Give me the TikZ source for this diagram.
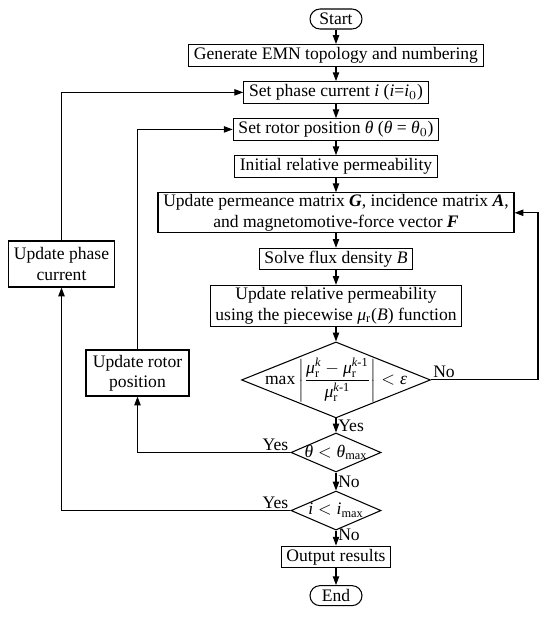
\documentclass[tikz,border=0pt]{standalone}
\usepackage{amsmath}
\usepackage{fontspec}
\setmainfont{Liberation Serif}
\usepackage{tikz}
\usetikzlibrary{arrows.meta, positioning, shapes.geometric}
\newcommand{\mv}[1]{\text{\textit{#1}}}
\tikzset{
    % Main flow
    stepbox/.style={rectangle, draw=black, line width=0.6pt, minimum height=0.43cm,
                inner xsep=3pt, inner ysep=1pt, align=center, font=\fontsize{10}{11.5}\selectfont},
    termbox/.style={rectangle, rounded corners=0.2cm, draw=black, line width=0.6pt,
                minimum width=1.04cm, minimum height=0.4cm, inner sep=1pt, font=\fontsize{10}{11.5}\selectfont},
    decision/.style={diamond, draw=black, line width=0.6pt, inner sep=0pt,
                label distance=0pt, font=\fontsize{10}{11.5}\selectfont},
    % Loop boxes
    loopbox/.style={stepbox, minimum width=2.06cm, minimum height=0.92cm},
    flowarrow/.style={-{Triangle[length=5pt, width=3.6pt]}, line width=0.6pt},
    lbl/.style={font=\fontsize{10}{11.5}\selectfont, inner sep=1pt},
}
\begin{document}
\begin{tikzpicture}[node distance=0.29cm]
\useasboundingbox (0,0) rectangle (11,-12.34);
\node[termbox] (start) at (6.72,-0.38) {Start};
\node[stepbox, below=of start] (gen) {Generate EMN topology and numbering};
\node[stepbox, below=of gen] (setphase) {Set phase current \textit{i} (\textit{i}=\textit{i}$_0$)};
\node[stepbox, below=of setphase] (setrotor) {Set rotor position \textit{θ} (\textit{θ} = \textit{θ}$_0$)};
\node[stepbox, below=of setrotor] (init) {Initial relative permeability};
\node[stepbox, minimum height=0.8cm, below=of init] (upperm)
    {Update permeance matrix \textbf{\textit{G}}, incidence matrix \textbf{\textit{A}},\\
     and magnetomotive-force vector \textbf{\textit{F}}};
\node[stepbox, below=of upperm] (solve) {Solve flux density \textit{B}};
\node[stepbox, minimum height=0.82cm, below=of solve] (updrel)
    {Update relative permeability\\ using the piecewise \textit{μ}$_{\text{r}}$(\textit{B}) function};
\node[decision, minimum width=3.78cm, minimum height=1.52cm, below=of updrel,
    label={center:max\,$\left|\dfrac{\mv{μ}_{\text{r}}^{\mv{k}}-\mv{μ}_{\text{r}}^{\mv{k}\text{-1}}}{\mv{μ}_{\text{r}}^{\mv{k}\text{-1}}}\right|<\mv{ε}$}] (dconv) {};
\node[decision, minimum width=1.8cm, minimum height=0.78cm, below=0.28cm of dconv,
    label={center:$\mv{θ}<\mv{θ}_{\text{max}}$}] (dtheta) {};
\node[decision, minimum width=1.8cm, minimum height=0.78cm, below=0.36cm of dtheta,
    label={center:$\mv{i}<\mv{i}_{\text{max}}$}] (dcur) {};
\node[stepbox, below=0.3cm of dcur] (output) {Output results};
\node[termbox, below=0.34cm of output] (stop) {End};

\node[loopbox] (updphase) at (1.23,-5.28) {Update phase\\ current};
\node[loopbox] (updrotor) at (2.75,-7.46) {Update rotor\\ position};

\draw[flowarrow] (start) -- (gen);
\draw[flowarrow] (gen) -- (setphase);
\draw[flowarrow] (setphase) -- (setrotor);
\draw[flowarrow] (setrotor) -- (init);
\draw[flowarrow] (init) -- (upperm);
\draw[flowarrow] (upperm) -- (solve);
\draw[flowarrow] (solve) -- (updrel);
\draw[flowarrow] (updrel) -- (dconv);
\draw[flowarrow] (dconv) -- node[lbl, right] {Yes} (dtheta);
\draw[flowarrow] (dtheta) -- node[lbl, right] {No} (dcur);
\draw[flowarrow] (dcur) -- node[lbl, right, pos=0.3] {No} (output);
\draw[flowarrow] (output) -- (stop);

% loops
\draw[flowarrow] (dconv.east) node[lbl, above right] {No} -- ++(2.14,0) |- (upperm.east);
\draw[flowarrow] (dtheta.west) node[lbl, above left] {Yes} -| (updrotor.south);
\draw[flowarrow] (updrotor.north) |- (setrotor.west);
\draw[flowarrow] (dcur.west) node[lbl, above left] {Yes} -| (updphase.south);
\draw[flowarrow] (updphase.north) |- (setphase.west);
\end{tikzpicture}
\end{document}
